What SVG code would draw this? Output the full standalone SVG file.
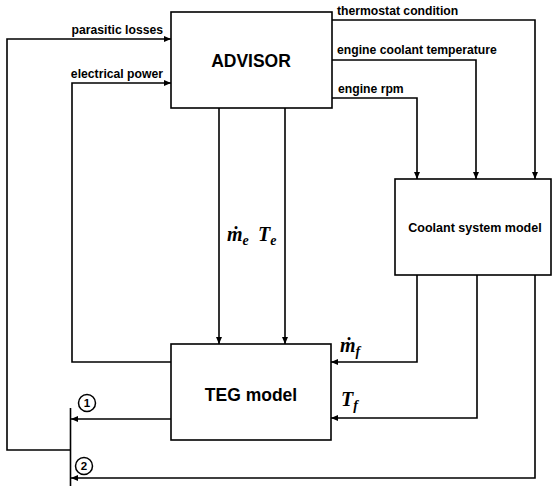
<svg xmlns="http://www.w3.org/2000/svg" width="552" height="486" viewBox="0 0 552 486">
<style>
.box{fill:#fff;stroke:#000;stroke-width:1.6}
.ln{fill:none;stroke:#000;stroke-width:1.6}
.lbl{font-family:"Liberation Sans",Arial,sans-serif;font-weight:bold;font-size:12.2px;fill:#000}
.big{font-family:"Liberation Sans",Arial,sans-serif;font-weight:bold;font-size:17.5px;fill:#000}
.mid{font-family:"Liberation Sans",Arial,sans-serif;font-weight:bold;font-size:12.5px;fill:#000}
.math{font-family:"Liberation Serif","Times New Roman",serif;font-weight:bold;font-style:italic;font-size:20px;fill:#000}
.sub{font-size:14px}
.circ{fill:#fff;stroke:#000;stroke-width:1.5}
.num{font-family:"Liberation Sans",Arial,sans-serif;font-weight:bold;font-size:11.5px;fill:#000}
</style>
<defs>
<marker id="ah" markerWidth="7" markerHeight="6" refX="7" refY="3" orient="auto" markerUnits="userSpaceOnUse">
<path d="M0,0 L7,3 L0,6 z" fill="#000"/>
</marker>
</defs>
<rect width="552" height="486" fill="#fff"/>
<g id="connectors">
<path class="ln" d="M70,450 H7 V39 H171" marker-end="url(#ah)"/>
<path class="ln" d="M171,362 H72 V83 H171" marker-end="url(#ah)"/>
<path class="ln" d="M332,20 H535 V179" marker-end="url(#ah)"/>
<path class="ln" d="M332,60 H476 V179" marker-end="url(#ah)"/>
<path class="ln" d="M332,98 H417 V179" marker-end="url(#ah)"/>
<path class="ln" d="M219,108 V344" marker-end="url(#ah)"/>
<path class="ln" d="M285,108 V344" marker-end="url(#ah)"/>
<path class="ln" d="M417,275 V362 H331" marker-end="url(#ah)"/>
<path class="ln" d="M477,275 V418 H331" marker-end="url(#ah)"/>
<path class="ln" d="M535,275 V478 H71" marker-end="url(#ah)"/>
<path class="ln" d="M171,419 H71" marker-end="url(#ah)"/>
<path class="ln" d="M70.5,408 V486"/>
<text class="lbl" x="163" y="34" text-anchor="end">parasitic losses</text>
<text class="lbl" x="163" y="78" text-anchor="end">electrical power</text>
<text class="lbl" x="337" y="15">thermostat condition</text>
<text class="lbl" x="337" y="54">engine coolant temperature</text>
<text class="lbl" x="338" y="93">engine rpm</text>
<text class="math" x="227" y="241">ṁ<tspan class="sub" dy="4">e</tspan></text>
<text class="math" x="258" y="241">T<tspan class="sub" dy="4">e</tspan></text>
<text class="math" x="340" y="352">ṁ<tspan class="sub" dy="4">f</tspan></text>
<text class="math" x="341" y="406">T<tspan class="sub" dy="4">f</tspan></text>
<circle class="circ" cx="87" cy="403" r="8.5"/>
<text class="num" x="87" y="407" text-anchor="middle">1</text>
<circle class="circ" cx="84" cy="466" r="8.5"/>
<text class="num" x="84" y="470" text-anchor="middle">2</text>
</g>
<g id="advisor">
<rect class="box" x="171" y="12" width="161" height="96"/>
<text class="big" x="251" y="67" text-anchor="middle">ADVISOR</text>
</g>
<g id="coolant">
<rect class="box" x="395" y="179" width="156" height="96"/>
<text class="mid" x="475" y="232" text-anchor="middle">Coolant system model</text>
</g>
<g id="teg">
<rect class="box" x="171" y="344" width="160" height="96"/>
<text class="big" x="251" y="401" text-anchor="middle">TEG model</text>
</g>
</svg>
